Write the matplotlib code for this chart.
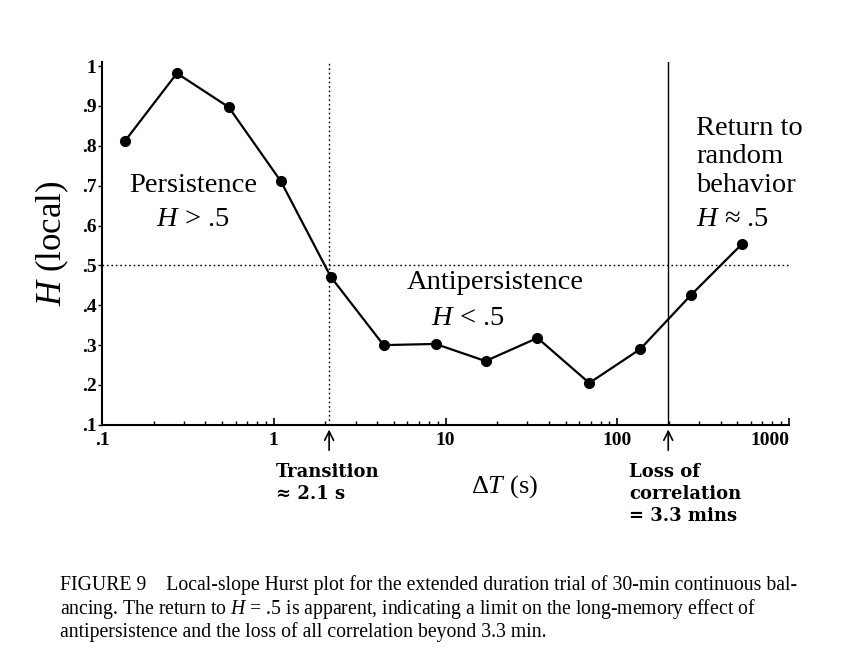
#!/usr/bin/env python3
"""Local-slope Hurst plot (Figure 9) - H(local) vs Delta T on log axis."""
import matplotlib.pyplot as plt
import matplotlib.transforms as mtransforms
from matplotlib.ticker import FixedLocator, FixedFormatter, LogLocator, NullFormatter

plt.rcParams["font.family"] = ["Liberation Serif", "DejaVu Serif"]
plt.rcParams["mathtext.fontset"] = "custom"
plt.rcParams["mathtext.rm"] = "Liberation Serif"
plt.rcParams["mathtext.it"] = "Liberation Serif:italic"

# data
delta_t = [0.136, 0.273, 0.547, 1.10, 2.15, 4.36, 8.75, 17.1, 34.3, 68.7, 136, 269, 533]
h_local = [0.812, 0.982, 0.897, 0.711, 0.471, 0.300, 0.303, 0.260, 0.318, 0.205, 0.290, 0.426, 0.554]

x_ticks = [0.1, 1, 10, 100, 1000]
x_labels = [".1", "1", "10", "100", "1000"]
y_ticks = [0.1, 0.2, 0.3, 0.4, 0.5, 0.6, 0.7, 0.8, 0.9, 1.0]
y_labels = [".1", ".2", ".3", ".4", ".5", ".6", ".7", ".8", ".9", "1"]

TRANSITION = 2.1      # s
LOSS = 198.0          # s (3.3 min)
H_RANDOM = 0.5

CAPTION = [
    "FIGURE 9    Local-slope Hurst plot for the extended duration trial of 30-min continuous bal-",
    "ancing. The return to $H$ = .5 is apparent, indicating a limit on the long-memory effect of",
    "antipersistence and the loss of all correlation beyond 3.3 min.",
]


def main():
    fig = plt.figure(figsize=(8.43, 6.68), dpi=100)
    ax = fig.add_axes([0.121, 0.364, 0.815, 0.543])

    ax.plot(delta_t, h_local, color="black", linewidth=1.6, marker="o",
            markersize=7, zorder=3)

    ax.axhline(H_RANDOM, color="black", linestyle=(0, (1.2, 2)), linewidth=1.0)
    ax.axvline(TRANSITION, color="black", linestyle=(0, (1.2, 2)), linewidth=1.0)
    ax.axvline(LOSS, color="black", linestyle="-", linewidth=1.0)

    ax.set_xscale("log")
    ax.set_xlim(0.1, 1000)
    ax.set_ylim(0.1, 1.01)

    ax.xaxis.set_major_locator(FixedLocator(x_ticks))
    ax.xaxis.set_major_formatter(FixedFormatter(x_labels))
    ax.xaxis.set_minor_locator(LogLocator(base=10, subs=range(2, 10), numticks=20))
    ax.xaxis.set_minor_formatter(NullFormatter())
    ax.yaxis.set_major_locator(FixedLocator(y_ticks))
    ax.yaxis.set_major_formatter(FixedFormatter(y_labels))

    ax.tick_params(axis="x", which="major", direction="in", length=5, width=1.2,
                   labelsize=14, pad=5)
    ax.tick_params(axis="x", which="minor", direction="in", length=3, width=1.0)
    ax.tick_params(axis="y", direction="out", length=3, width=1.0, labelsize=14, pad=1)
    for lbl in ax.get_xticklabels() + ax.get_yticklabels():
        lbl.set_fontweight("bold")
    ax.get_xticklabels()[-1].set_horizontalalignment("right")

    for side in ("top", "right"):
        ax.spines[side].set_visible(False)
    ax.spines["left"].set_linewidth(1.5)
    ax.spines["bottom"].set_linewidth(1.5)

    ax.set_ylabel("$H$ (local)", fontsize=25, labelpad=8)

    txt = dict(fontsize=20.5, ha="center", va="center")
    ax.text(0.338, 0.701, "Persistence", **txt)
    ax.text(0.338, 0.616, "$H$ > .5", **txt)
    ax.text(19.5, 0.456, "Antipersistence", **txt)
    ax.text(13.4, 0.368, "$H$ < .5", **txt)
    ax.text(288, 0.772, "Return to\nrandom\nbehavior", fontsize=20.5, ha="left",
            va="center", linespacing=1.16)
    ax.text(288, 0.614, "$H$ ≈ .5", fontsize=20.5, ha="left", va="center")

    # arrows and labels below the x axis
    trans = mtransforms.blended_transform_factory(ax.transData, fig.transFigure)
    for xv in (TRANSITION, LOSS):
        ax.annotate("", xy=(xv, 0.357), xytext=(xv, 0.326), xycoords=trans,
                    textcoords=trans,
                    arrowprops=dict(arrowstyle="->", color="black", lw=1.2,
                                    mutation_scale=16, shrinkA=0, shrinkB=0))
    note = dict(transform=trans, fontsize=13, fontweight="bold", ha="left",
                va="top", linespacing=1.3, family="DejaVu Serif")
    ax.text(1.03, 0.307, "Transition\n≈ 2.1 s", **note)
    ax.text(117, 0.307, "Loss of\ncorrelation\n= 3.3 mins", **note)
    ax.text(22, 0.271, "$\\mathit{\\Delta T}$ (s)", transform=trans, fontsize=19,
            ha="center", va="center")

    fig.text(0.071, 0.139, "\n".join(CAPTION), fontsize=14.2, ha="left", va="top",
             linespacing=1.11)

    fig.savefig("out.png", dpi=100)
    plt.close(fig)


if __name__ == "__main__":
    main()
